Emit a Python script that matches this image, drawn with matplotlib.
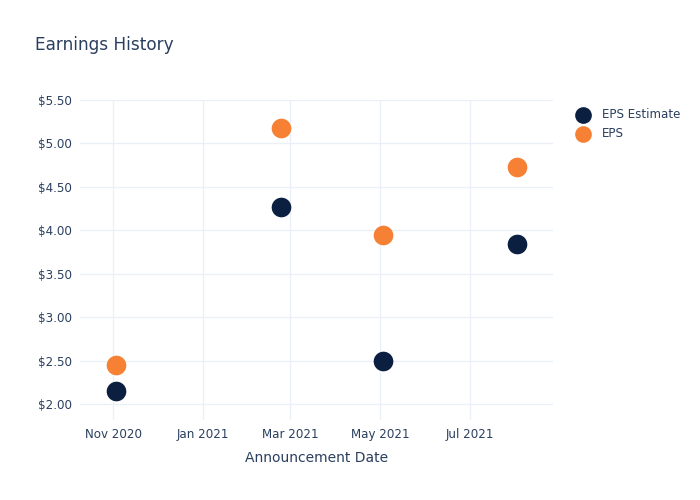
import matplotlib
matplotlib.use("Agg")
import matplotlib.pyplot as plt
import matplotlib.dates as mdates
import matplotlib.ticker as mticker
import pandas as pd

# -----------------------------
# Earnings data
# -----------------------------
announce_dates = ["2020-11-03", "2021-02-23", "2021-05-03", "2021-08-02"]
eps_estimate = [2.15, 4.27, 2.50, 3.84]
eps_actual = [2.45, 5.18, 3.95, 4.73]

text_color = "#2a3f5f"
grid_color = "#ebf0f8"
navy = "#0b1f41"
orange = "#f68135"

dates = pd.to_datetime(announce_dates)

fig = plt.figure(figsize=(7, 5), dpi=100)
ax = fig.add_axes([80 / 700, 1 - 420 / 500, (553 - 80) / 700, (420 - 100) / 500])

ax.scatter(dates, eps_estimate, s=200, color=navy, label="EPS Estimate", zorder=3, linewidths=0)
ax.scatter(dates, eps_actual, s=200, color=orange, label="EPS", zorder=3, linewidths=0)

# axis ranges
ax.set_xlim(pd.Timestamp("2020-10-09 12:00"), pd.Timestamp("2021-08-26 12:00"))
ax.set_ylim(1.816, 5.5)

ax.yaxis.set_major_locator(mticker.MultipleLocator(0.5))
ax.yaxis.set_major_formatter(mticker.FuncFormatter(lambda v, p: f"${v:.2f}"))
ax.xaxis.set_major_locator(mdates.MonthLocator(bymonth=[1, 3, 5, 7, 11]))
ax.xaxis.set_major_formatter(mdates.DateFormatter("%b %Y"))

ax.grid(True, color=grid_color, linewidth=1)
ax.set_axisbelow(True)
for s in ax.spines.values():
    s.set_visible(False)
ax.tick_params(length=0, colors=text_color, labelsize=8.6, pad=6)

ax.set_xlabel("Announcement Date", color=text_color, fontsize=10, labelpad=7)
fig.text(35 / 700, 1 - 45 / 500, "Earnings History", color=text_color,
         fontsize=12.2, va="center", ha="left")

leg = fig.legend(loc="upper left", bbox_to_anchor=(566 / 700, 1 - 103 / 500),
                 frameon=False, fontsize=8.6, labelcolor=text_color, markerscale=0.85,
                 handletextpad=0.6, labelspacing=0.55, borderaxespad=0)

fig.savefig("out.png", dpi=100)
